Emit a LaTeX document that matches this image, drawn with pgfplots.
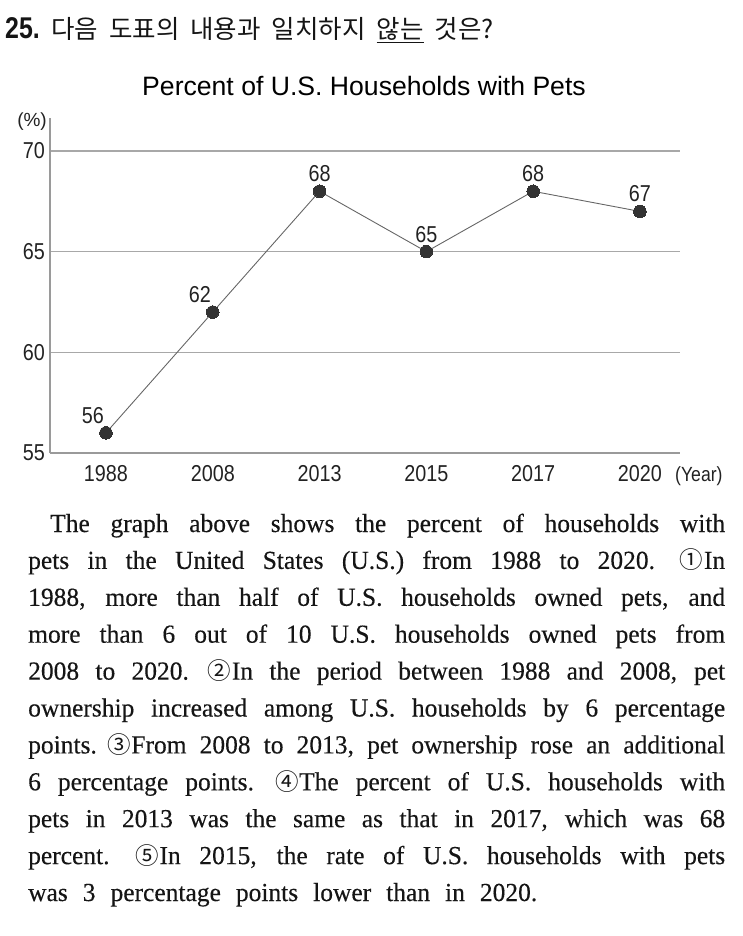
\documentclass[border=0pt]{standalone}
\usepackage{fontspec}
\usepackage{pgfplots}
\usepackage{pgfplotstable}
\pgfplotsset{compat=1.18}
\setmainfont{Liberation Serif}
\newfontfamily\bodyfont[FakeStretch=0.98,FakeBold=0.3]{Liberation Serif}
\newfontfamily\chartfont{Liberation Sans}
\newfontfamily\numfont[FakeStretch=0.86]{Liberation Sans}
\newfontfamily\kr{Noto Sans CJK KR}
\newfontfamily\qnum[FakeStretch=0.83]{Liberation Sans Bold}
\definecolor{txtc}{HTML}{151515}
\definecolor{gridg}{HTML}{A8A8A8}
\definecolor{axisg}{HTML}{9A9A9A}
\definecolor{lineg}{HTML}{666666}
\definecolor{markc}{HTML}{333333}
\definecolor{labc}{HTML}{222222}

\pgfplotstableread{
x y
0 56
1 62
2 68
3 65
4 68
5 67
}\pettable

\newcommand{\ptext}{\bodyfont\fontsize{26}{30}\selectfont\spaceskip=13.5pt plus 12pt minus 4pt\relax}
\newcommand{\cn}[1]{\hspace{-5pt}{\kr\fontsize{23.5}{23}\selectfont #1}\hspace{0.5pt}}
\newcommand{\pline}[3]{\node[anchor=base west,inner sep=0pt,text=txtc] at (#1,-#2) {\ptext\hbox to \dimexpr725pt-#1pt\relax{#3}};}

\begin{document}
\begin{tikzpicture}[x=1pt,y=1pt]
\useasboundingbox (0,0) rectangle (743,-936);

% header
\node[anchor=base west,inner sep=0pt,text=txtc] at (5,-39) {\qnum\fontsize{30}{30}\selectfont 25.};
\node[anchor=base west,inner sep=0pt,text=txtc] at (51,-39) {\kr\fontsize{25.5}{26}\selectfont\spaceskip=11pt\relax 다음 도표의 내용과 일치하지 \underline{않는} 것은?};

% title
\node[anchor=base,inner sep=0pt,text=black] at (364,-95.5) {\chartfont\fontsize{26.6}{27}\selectfont Percent of U.S. Households with Pets};

\begin{axis}[
  at={(50pt,-453pt)}, anchor=south west,
  scale only axis, width=630pt, height=335pt,
  xmin=-0.524, xmax=5.375, ymin=55, ymax=71.64,
  axis x line=bottom, axis y line=left,
  axis line style={-, draw=axisg, line width=1.3pt},
  xtick={0,1,2,3,4,5},
  xticklabels={1988,2008,2013,2015,2017,2020},
  ytick={55,60,65,70},
  major tick length=0pt,
  ymajorgrids, grid style={draw=gridg, line width=1.2pt},
  /pgf/number format/assume math mode=true,
  ticklabel style={font=\numfont\fontsize{23}{23}\selectfont, text=labc, inner sep=0pt},
  xticklabel style={yshift=-12pt},
  yticklabel style={xshift=-5pt},
  clip=false,
  every node near coord/.append style={font=\numfont\fontsize{23}{23}\selectfont, text=labc, anchor=south, inner sep=0pt, yshift=9pt},
]
\addplot[color=lineg, line width=0.9pt, mark=*, mark size=6.3pt,
  mark options={fill=markc, draw=markc, line width=0pt}]
  table[x=x, y=y] {\pettable};
% data labels (left-shifted for the first two points)
\addplot[draw=none, mark=none, nodes near coords={\pgfplotspointmeta}, point meta=explicit symbolic,
  every node near coord/.append style={xshift=-13pt}]
  coordinates {(0,56) [56] (1,62) [62]};
\addplot[draw=none, mark=none, nodes near coords={\pgfplotspointmeta}, point meta=explicit symbolic]
  coordinates {(2,68) [68] (3,65) [65] (4,68) [68] (5,67) [67]};
\node[anchor=east, inner sep=0pt, text=labc, font=\chartfont\fontsize{19}{19}\selectfont] at ([xshift=-3pt,yshift=-4pt]rel axis cs:0,1) {(\%)};
\node[anchor=base west, inner sep=0pt, text=labc, font=\numfont\fontsize{20.5}{21}\selectfont] at ([xshift=-5pt,yshift=-28pt]rel axis cs:1,0) {(Year)};
\end{axis}

% paragraph
\pline{50}{532}{The graph above shows the percent of households with}
\pline{28}{568.9}{pets in the United States (U.S.) from 1988 to 2020. \cn{①}In}
\pline{28}{605.8}{1988, more than half of U.S. households owned pets, and}
\pline{28}{642.7}{more than 6 out of 10 U.S. households owned pets from}
\pline{28}{679.6}{2008 to 2020. \cn{②}In the period between 1988 and 2008, pet}
\pline{28}{716.5}{ownership increased among U.S. households by 6 percentage}
\pline{28}{753.4}{points. \cn{③}From 2008 to 2013, pet ownership rose an additional}
\pline{28}{790.3}{6 percentage points. \cn{④}The percent of U.S. households with}
\pline{28}{827.2}{pets in 2013 was the same as that in 2017, which was 68}
\pline{28}{864.1}{percent. \cn{⑤}In 2015, the rate of U.S. households with pets}
\node[anchor=base west,inner sep=0pt,text=txtc] at (28,-901) {\ptext\spaceskip=15pt\relax was 3 percentage points lower than in 2020.};
\end{tikzpicture}
\end{document}
